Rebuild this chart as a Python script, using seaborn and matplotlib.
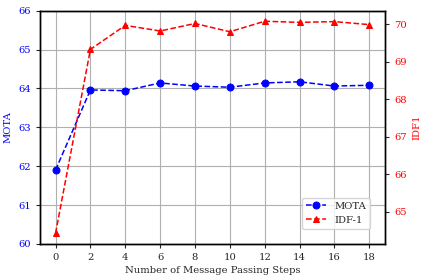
import numpy as np
import pandas as pd
import seaborn as sns
import matplotlib
matplotlib.use("Agg")
import matplotlib.pyplot as plt

# data
steps = [0, 2, 4, 6, 8, 10, 12, 14, 16, 18]
mota = [61.90, 63.96, 63.94, 64.14, 64.06, 64.03, 64.14, 64.17, 64.06, 64.08]
idf1 = [64.43, 69.33, 69.97, 69.82, 70.02, 69.80, 70.08, 70.05, 70.07, 69.99]
x_ticks = [0, 2, 4, 6, 8, 10, 12, 14, 16, 18]
mota_ticks = [60, 61, 62, 63, 64, 65, 66]

sns.set_style("ticks")
plt.rcParams["font.family"] = ["DejaVu Serif"]
plt.rcParams["font.size"] = 7.2
plt.rcParams["xtick.major.size"] = 3
plt.rcParams["ytick.major.size"] = 3

df = pd.DataFrame({"step": steps, "MOTA": mota, "IDF1": idf1})

fig, ax = plt.subplots(figsize=(4.24, 2.8), dpi=100)
fig.subplots_adjust(left=0.094, right=0.908, top=0.962, bottom=0.129)
ax2 = ax.twinx()

sns.lineplot(data=df, x="step", y="MOTA", ax=ax, color="b", linestyle="--",
             marker="o", markersize=5, markeredgecolor="b", linewidth=1.1, label="MOTA")
sns.lineplot(data=df, x="step", y="IDF1", ax=ax2, color="r", linestyle="--",
             marker="^", markersize=5, markeredgecolor="r", linewidth=1.1, label="IDF-1")

ax.set_ylim(60, 66)
ax.set_yticks(mota_ticks)
ax.set_xticks(x_ticks)
ax.set_xlim(-0.9, 18.9)
ax.grid(True, color="#b0b0b0", linewidth=0.8)
ax2.grid(False)

ax.set_xlabel("Number of Message Passing Steps", labelpad=3)
ax.set_ylabel("MOTA", color="b")
ax2.set_ylabel("IDF1", color="r")
ax.tick_params(axis="y", labelcolor="b")
ax2.tick_params(axis="y", labelcolor="r")
for a in (ax, ax2):
    for s in a.spines.values():
        s.set_color("black")
        s.set_linewidth(1.0)

h1, l1 = ax.get_legend_handles_labels()
h2, l2 = ax2.get_legend_handles_labels()
ax.get_legend().remove()
ax2.get_legend().remove()
ax2.legend(h1 + h2, l1 + l2, loc="lower right", bbox_to_anchor=(0.957, 0.064),
           borderaxespad=0, fontsize=7.2)

fig.savefig("out.png", dpi=100)
